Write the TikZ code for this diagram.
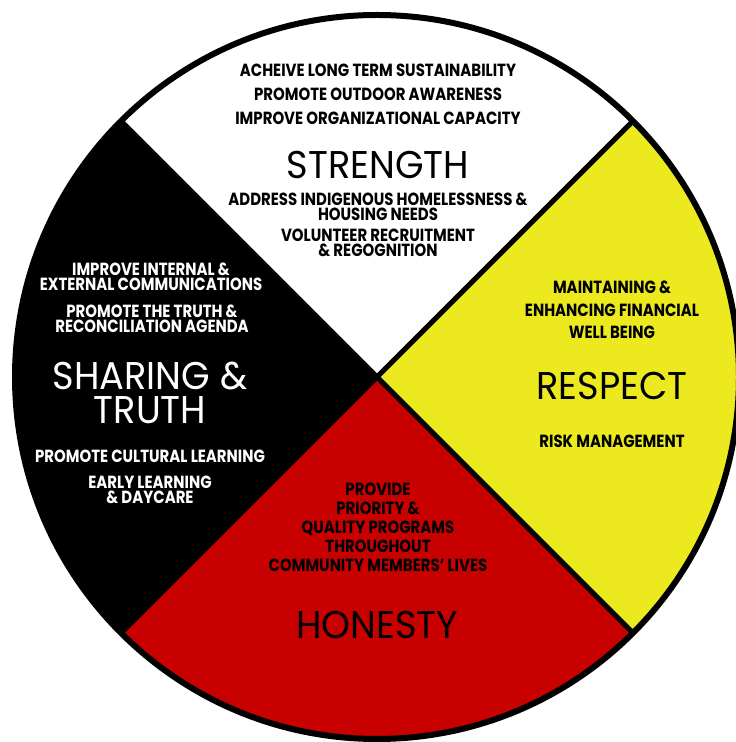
\documentclass[tikz,border=0pt]{standalone}
\usepackage{fontspec}
\newfontfamily\wheelfont{Poppins}[FakeStretch=0.85]
\newfontfamily\titlefont{Poppins}[FakeStretch=0.95]
\usepackage{tikz}
\definecolor{wheelred}{RGB}{200,0,0}
\definecolor{wheelyellow}{RGB}{236,234,30}

\begin{document}
\begin{tikzpicture}
    \tikzstyle{goal}=[align=center,inner sep=0pt,font=\wheelfont\bfseries\fontsize{5}{4.2}\selectfont]
    \tikzstyle{title}=[align=center,inner sep=0pt,font=\titlefont\fontsize{11}{9.2}\selectfont]
    \tikzstyle{divider}=[draw,black,line width=0.05cm]
    \tikzstyle{rim}=[draw,black,line width=0.06cm]

    \useasboundingbox (0,0) rectangle (7.35,7.42);

    \coordinate (hub) at (3.77,3.65);
    \path (hub) ++(45:3.62) coordinate (ne);
    \path (hub) ++(135:3.62) coordinate (nw);
    \path (hub) ++(225:3.62) coordinate (sw);
    \path (hub) ++(315:3.62) coordinate (se);

    \fill[white] (hub) -- (ne) arc[start angle=45,end angle=135,radius=3.62] -- cycle;
    \fill[black] (hub) -- (nw) arc[start angle=135,end angle=225,radius=3.62] -- cycle;
    \fill[wheelred] (hub) -- (sw) arc[start angle=225,end angle=315,radius=3.62] -- cycle;
    \fill[wheelyellow] (hub) -- (se) arc[start angle=-45,end angle=45,radius=3.62] -- cycle;

    \path[divider] (ne) -- (sw);
    \path[divider] (nw) -- (se);
    \path[rim] (hub) circle[radius=3.62];

    % strength
    \node[goal] (s1) at (3.78,6.72) {ACHEIVE LONG TERM SUSTAINABILITY};
    \node[goal] (s2) at (3.78,6.48) {PROMOTE OUTDOOR AWARENESS};
    \node[goal] (s3) at (3.78,6.24) {IMPROVE ORGANIZATIONAL CAPACITY};
    \node[title] (strength) at (3.78,5.77) {STRENGTH};
    \node[goal] (s4) at (3.78,5.35) {ADDRESS INDIGENOUS HOMELESSNESS \&\\HOUSING NEEDS};
    \node[goal] (s5) at (3.78,4.99) {VOLUNTEER RECRUITMENT\\\& REGOGNITION};

    % sharing and truth
    \node[goal,white] (t1) at (1.51,4.65) {IMPROVE INTERNAL \&\\EXTERNAL COMMUNICATIONS};
    \node[goal,white] (t2) at (1.52,4.23) {PROMOTE THE TRUTH \&\\RECONCILIATION AGENDA};
    \node[title,white] (sharing) at (1.50,3.49) {SHARING \&\\[0.6pt]TRUTH};
    \node[goal,white] (t3) at (1.50,2.86) {PROMOTE CULTURAL LEARNING};
    \node[goal,white] (t4) at (1.50,2.52) {EARLY LEARNING\\\& DAYCARE};

    % respect
    \node[goal] (r1) at (6.12,4.32) {MAINTAINING \&\\[2.2pt]ENHANCING FINANCIAL\\[2.2pt]WELL BEING};
    \node[title] (respect) at (6.12,3.56) {RESPECT};
    \node[goal] (r2) at (6.12,3.01) {RISK MANAGEMENT};

    % honesty
    \node[goal] (h1) at (3.78,2.15) {PROVIDE\\[1.2pt]PRIORITY \&\\[1.2pt]QUALITY PROGRAMS\\[1.2pt]THROUGHOUT\\[1.2pt]COMMUNITY MEMBERS’ LIVES};
    \node[title] (honesty) at (3.77,1.17) {HONESTY};
\end{tikzpicture}
\end{document}
